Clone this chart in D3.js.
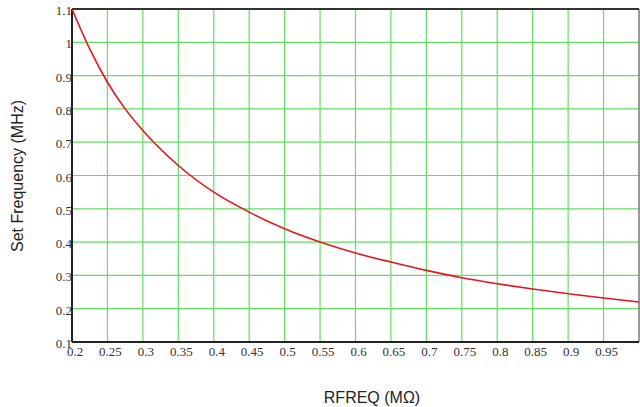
<!DOCTYPE html>
<html>
<head>
<meta charset="utf-8">
<script src="https://cdn.jsdelivr.net/npm/d3@7"></script>
<style>
  body { margin: 0; background: #fff; }
  .tick-label { font-family: "Liberation Serif", "Times New Roman", serif; font-size: 13px; fill: #333; }
  .axis-title { font-family: "Liberation Sans", Arial, sans-serif; font-size: 16px; fill: #222; }
</style>
</head>
<body>
<div id="plot"></div>
<script>
// resistance values (MOhm) and frequencies (MHz)
const rfreq = [0.2, 0.225, 0.25, 0.275, 0.3, 0.35, 0.4, 0.45, 0.5, 0.55, 0.6, 0.65, 0.7, 0.75, 0.8, 0.85, 0.9, 0.95, 1.0];
const setFreq = [1.1, 0.98, 0.88, 0.80, 0.735, 0.63, 0.55, 0.49, 0.44, 0.40, 0.367, 0.34, 0.315, 0.293, 0.275, 0.259, 0.245, 0.232, 0.22];
const xTicks = [0.2, 0.25, 0.3, 0.35, 0.4, 0.45, 0.5, 0.55, 0.6, 0.65, 0.7, 0.75, 0.8, 0.85, 0.9, 0.95, 1];
const yTicks = [0.1, 0.2, 0.3, 0.4, 0.5, 0.6, 0.7, 0.8, 0.9, 1, 1.1];

const W = 640, H = 407;
const margin = {top: 9, right: 1, bottom: 65, left: 72};
const width = W - margin.left - margin.right,
      height = H - margin.top - margin.bottom;

const svg = d3.select("#plot")
  .append("svg")
    .attr("width", W)
    .attr("height", H)
  .append("g")
    .attr("transform", `translate(${margin.left}, ${margin.top})`);

const x = d3.scaleLinear().domain([0.2, 1]).range([0, width]);
const y = d3.scaleLinear().domain([0.1, 1.1]).range([height, 0]);

// grid
svg.append("g")
  .selectAll("line")
  .data(xTicks.slice(1, -1))
  .join("line")
    .attr("x1", d => x(d)).attr("x2", d => x(d))
    .attr("y1", 0).attr("y2", height)
    .attr("stroke", "#5fe05f")
    .attr("stroke-width", 1.2);

svg.append("g")
  .selectAll("line")
  .data(yTicks.slice(1, -1))
  .join("line")
    .attr("y1", d => y(d)).attr("y2", d => y(d))
    .attr("x1", 0).attr("x2", width)
    .attr("stroke", "#5fe05f")
    .attr("stroke-width", 1.2);

// frame
svg.append("line").attr("x1", width).attr("x2", width).attr("y1", 0).attr("y2", height)
  .attr("stroke", "#777").attr("stroke-width", 1.5);
svg.append("line").attr("x1", 0).attr("x2", width).attr("y1", 0).attr("y2", 0)
  .attr("stroke", "#333").attr("stroke-width", 2);
svg.append("line").attr("x1", 0).attr("x2", width).attr("y1", height).attr("y2", height)
  .attr("stroke", "#222").attr("stroke-width", 2);
svg.append("line").attr("x1", 0).attr("x2", 0).attr("y1", 0).attr("y2", height)
  .attr("stroke", "#222").attr("stroke-width", 2);

// tick labels
svg.append("g")
  .selectAll("text")
  .data(xTicks)
  .join("text")
    .attr("class", "tick-label")
    .attr("x", d => x(d) + 3)
    .attr("y", height + 14)
    .attr("text-anchor", "middle")
    .text(d => d);

svg.append("g")
  .selectAll("text")
  .data(yTicks)
  .join("text")
    .attr("class", "tick-label")
    .attr("x", 0)
    .attr("y", d => y(d) + 6)
    .attr("text-anchor", "end")
    .text(d => d);

// curve
const line = d3.line()
  .x((d, i) => x(rfreq[i]))
  .y(d => y(d))
  .curve(d3.curveMonotoneX);

svg.append("path")
  .datum(setFreq)
  .attr("fill", "none")
  .attr("stroke", "#e8141c")
  .attr("stroke-width", 1.6)
  .attr("d", line);

// axis titles
svg.append("text")
  .attr("class", "axis-title")
  .attr("text-anchor", "middle")
  .attr("x", 372 - margin.left)
  .attr("y", 403 - margin.top)
  .text("RFREQ (MΩ)");

svg.append("text")
  .attr("class", "axis-title")
  .attr("text-anchor", "middle")
  .attr("transform", `translate(${23 - margin.left}, ${176 - margin.top}) rotate(-90)`)
  .text("Set Frequency (MHz)");
</script>
</body>
</html>
